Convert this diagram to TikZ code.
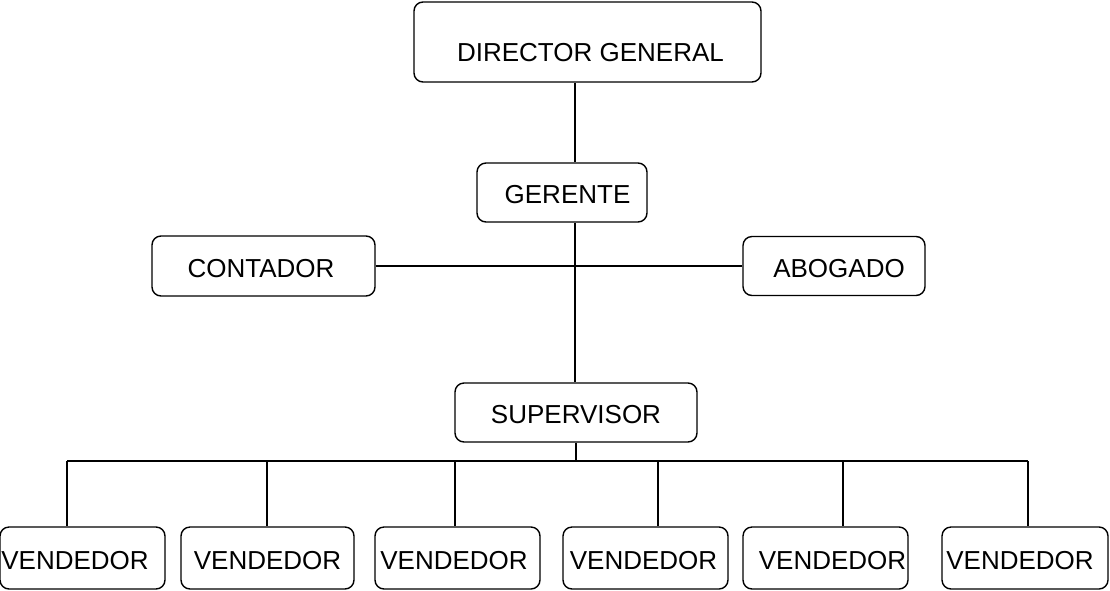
\documentclass[tikz,border=0pt]{standalone}
\usepackage{fontspec}
\setmainfont{Liberation Sans}
\usepackage{tikz}
\usetikzlibrary{calc}

\begin{document}
\begin{tikzpicture}[
    x=1pt, y=-1pt,
    box/.style={draw, rounded corners=9pt, line width=1.4pt, fill=white,
                inner sep=0pt, text height=22pt, text depth=0pt,
                font=\fontsize{26}{30}\selectfont},
    nudge/.style={execute at begin node={\hspace*{#1}}},
    link/.style={line width=1.4pt},
]
\useasboundingbox (0,0) rectangle (1110,590);

\node[box, minimum width=347pt, minimum height=80pt, text height=39pt, nudge=6pt] (dir) at (587.5,42) {DIRECTOR GENERAL};
\node[box, minimum width=170pt, minimum height=59pt, nudge=11pt] (ger) at (562,192.5) {GERENTE};
\node[box, minimum width=223pt, minimum height=60pt, nudge=-5pt] (con) at (263.5,266) {CONTADOR};
\node[box, minimum width=182pt, minimum height=59pt, nudge=10pt] (abo) at (834,266) {ABOGADO};
\node[box, minimum width=242pt, minimum height=59pt] (sup) at (576,412.5) {SUPERVISOR};

% main trunk
\coordinate (axis) at (575,0);
\draw[link] (dir.south -| axis) -- (ger.north -| axis);
\draw[link] (ger.south -| axis) -- (sup.north -| axis);
\draw[link] (con) -- (abo);

% salesmen
\foreach \i/\cx/\w/\dx/\n in {1/82.5/165/67/-15, 2/267.5/173/267/0, 3/457.5/165/455/-7,
                             4/645.5/165/658/-4, 5/825.5/165/843/14, 6/1025/166/1028/-10}{
  \node[box, minimum width=\w pt, minimum height=62pt, nudge=\n pt] (v\i) at (\cx,558) {VENDEDOR};
  \coordinate (d\i) at (\dx,461);
  \draw[link] (d\i) -- (d\i |- v\i.north);
}
\draw[link] (d1) -- (d6);
\draw[link] (sup.south) -- (sup.south |- d1);

\end{tikzpicture}
\end{document}
